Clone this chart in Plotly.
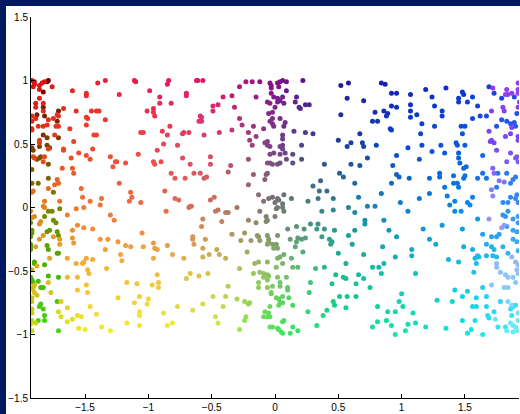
import numpy as np
import plotly.graph_objects as go

# Scatter samples, split by shading: the near face, the darker far face on the
# left rim and the paler far face on the right rim.
front_pts = [
    (-1.92, 1.00), (-1.90, 0.99), (-1.90, 0.97), (-1.86, 0.96), (-1.84, 0.98), (-1.82, 0.99),
    (-1.76, 0.95), (-1.86, 0.93), (-1.91, 0.95), (-1.60, 0.92), (-1.57, 0.76), (-1.49, 0.90),
    (-1.49, 0.88), (-1.40, 0.98), (-1.34, 1.00), (-1.23, 0.89), (-1.11, 1.00), (-1.10, 0.99),
    (-0.99, 0.92), (-0.85, 0.97), (-0.84, 1.00), (-0.91, 0.87), (-0.82, 0.82), (-0.91, 0.82),
    (-0.96, 0.78), (-0.96, 0.75), (-0.95, 0.72), (-1.01, 0.76), (-0.83, 0.64), (-1.49, 0.71),
    (-1.48, 0.70), (-1.49, 0.65), (-1.45, 0.76), (-1.41, 0.76), (-1.39, 0.76), (-1.34, 0.69),
    (-1.86, 0.86), (-1.89, 0.82), (-1.89, 0.79), (-1.83, 0.82), (-1.83, 0.76), (-1.92, 0.72),
    (-1.92, 0.68), (-1.89, 0.70), (-1.79, 0.69), (-1.75, 0.70), (-1.67, 0.78), (-1.72, 0.73),
    (-1.71, 0.72), (-1.73, 0.64), (-1.71, 0.64), (-1.83, 0.64), (-1.87, 0.64), (-1.92, 0.62),
    (-1.80, 0.65), (-1.62, 0.62),
    (-0.70, 0.90), (-0.70, 0.88), (-0.62, 1.00), (-0.61, 1.00), (-0.57, 1.00), (-0.59, 0.72),
    (-0.58, 0.71), (-0.58, 0.68), (-0.60, 0.68), (-0.49, 0.80), (-0.45, 0.81), (-0.49, 0.76),
    (-0.41, 0.87), (-0.34, 0.88), (-0.32, 0.79), (-0.28, 0.70), (-0.26, 0.65), (-0.28, 0.95),
    (-0.23, 0.99), (-0.18, 0.99), (-0.12, 0.99), (-0.15, 0.87), (-0.17, 0.64), (-0.04, 0.98),
    (-0.03, 0.96), (-0.03, 0.94), (0.02, 0.98), (0.04, 0.99), (0.06, 1.00), (0.09, 0.99),
    (0.03, 0.95), (0.09, 0.92), (-0.03, 0.90), (-0.01, 0.87), (0.02, 0.86), (0.06, 0.87),
    (0.04, 0.84), (-0.06, 0.83), (-0.04, 0.82), (0.02, 0.83), (0.07, 0.82), (0.16, 0.83),
    (0.17, 0.87), (0.19, 0.79), (0.20, 0.78), (0.24, 0.81), (0.27, 0.81), (0.00, 0.79),
    (-0.02, 0.75), (-0.05, 0.74), (-0.02, 0.70), (-0.04, 0.68), (-0.02, 0.66), (-0.01, 0.64),
    (0.04, 0.70), (0.08, 0.67), (0.07, 0.64), (-0.09, 0.62), (0.22, 1.00),
    (0.52, 0.96), (0.58, 0.98), (0.57, 0.86), (0.52, 0.73), (0.70, 0.84), (0.84, 0.98),
    (0.87, 0.97), (0.92, 0.90), (0.96, 0.90), (0.79, 0.75), (0.86, 0.76), (0.89, 0.74),
    (0.88, 0.72), (0.92, 0.80), (0.96, 0.79), (0.77, 0.68), (0.81, 0.68), (0.91, 0.62),
    (1.07, 0.89), (1.19, 0.93), (1.24, 0.87), (1.07, 0.81), (1.07, 0.76), (1.07, 0.71),
    (1.12, 0.73), (1.26, 0.80), (1.35, 0.94), (1.32, 0.76), (1.32, 0.72), (1.16, 0.66),
    (1.26, 0.64), (1.45, 0.86), (1.45, 0.83), (1.48, 0.91), (1.49, 0.89), (1.52, 0.83),
    (1.56, 0.87), (1.60, 0.80), (1.47, 0.64), (1.50, 0.64), (1.56, 0.70), (1.62, 0.72),
    (1.67, 0.72), (1.69, 0.95), (1.73, 0.90), (1.79, 0.86), (1.89, 0.87), (1.91, 0.74),
    (1.79, 0.69), (1.83, 0.68), (1.86, 0.66), (1.89, 0.67), (1.90, 0.64), (1.75, 0.64),
    (-1.92, 0.61), (-1.86, 0.53), (-1.86, 0.51), (-1.79, 0.46), (-1.74, 0.57), (-1.67, 0.46),
    (-1.67, 0.45), (-1.91, 0.40), (-1.90, 0.39), (-1.82, 0.40), (-1.83, 0.36), (-1.91, 0.13),
    (-1.92, 0.12), (-1.72, 0.22), (-1.74, 0.18), (-1.71, 0.19), (-1.79, 0.15), (-1.68, 0.31),
    (-1.82, 0.05), (-1.83, 0.01), (-1.82, 0.00), (-1.70, 0.05), (-1.93, -0.03), (-1.92, -0.08),
    (-1.90, -0.07), (-1.85, -0.11), (-1.86, -0.13), (-1.75, -0.23), (-1.83, -0.22), (-1.86, -0.25),
    (-1.70, -0.25), (-1.70, -0.29), (-1.89, -0.31), (-1.78, -0.40), (-1.88, -0.46), (-1.92, -0.49),
    (-1.59, 0.52), (-1.61, 0.39), (-1.60, 0.31), (-1.59, 0.27), (-1.55, 0.43), (-1.49, 0.41),
    (-1.46, 0.38), (-1.44, 0.46), (-1.43, 0.57), (-1.41, 0.57), (-1.53, 0.15), (-1.52, 0.08),
    (-1.46, 0.05), (-1.51, 0.00), (-1.57, -0.01), (-1.64, -0.06), (-1.37, 0.07), (-1.30, 0.40),
    (-1.28, 0.32), (-1.26, 0.36), (-1.25, 0.36), (-1.18, 0.35), (-1.23, 0.19), (-1.14, 0.12),
    (-1.13, 0.08), (-1.15, 0.05), (-1.08, 0.42), (-1.06, 0.04), (-1.06, 0.59), (-1.04, 0.59),
    (-0.96, 0.36), (-0.95, 0.34), (-0.90, 0.36), (-0.89, 0.60), (-0.85, 0.57), (-0.88, 0.50),
    (-0.93, 0.45), (-0.82, 0.27), (-0.87, 0.13), (-0.86, -0.03), (-1.27, -0.10), (-1.30, -0.06),
    (-1.38, 0.02), (-1.44, -0.17), (-1.51, -0.16), (-1.56, -0.14), (-1.60, -0.18), (-1.60, -0.24),
    (-1.59, -0.28), (-1.38, -0.25), (-1.34, -0.33), (-1.32, -0.25), (-1.24, -0.27), (-1.22, -0.37),
    (-1.18, -0.30), (-1.14, -0.31), (-1.04, -0.31), (-1.05, -0.20), (-0.96, -0.28), (-0.95, -0.32),
    (-0.93, -0.33), (-0.85, -0.30), (-0.81, -0.37), (-0.96, -0.40), (-1.21, -0.42), (-1.33, -0.48),
    (-1.49, -0.40), (-1.44, -0.41), (-1.51, -0.43), (-1.52, -0.44), (-1.57, -0.44), (-1.64, -0.40),
    (-1.48, -0.49), (-1.47, -0.52), (-1.56, -0.55), (-1.64, -0.55), (-1.79, -0.59), (-1.17, -0.59),
    (-1.09, -0.60), (-0.93, -0.53), (-0.92, -0.59),
    (-0.72, 0.59), (-0.68, 0.59), (-0.73, 0.58), (-0.56, 0.57), (-0.44, 0.59), (-0.34, 0.61),
    (-0.21, 0.59), (-0.15, 0.56), (-0.20, 0.53), (-0.18, 0.49), (-0.08, 0.51), (-0.06, 0.49),
    (-0.06, 0.52), (-0.04, 0.48), (-0.04, 0.42), (0.06, 0.57), (0.06, 0.54), (0.06, 0.49),
    (0.04, 0.48), (0.06, 0.46), (0.08, 0.43), (-0.01, 0.43), (0.04, 0.42), (0.15, 0.60),
    (0.24, 0.59), (0.30, 0.58), (0.21, 0.49), (0.14, 0.42), (0.09, 0.38), (0.21, 0.38),
    (0.14, 0.35), (-0.06, 0.35), (-0.04, 0.35), (-0.02, 0.34), (0.02, 0.34), (0.04, 0.35),
    (-0.21, 0.38), (-0.77, 0.49), (-0.73, 0.39), (-0.67, 0.34), (-0.51, 0.40), (-0.51, 0.34),
    (-0.35, 0.33), (-0.37, 0.28), (-0.64, 0.27), (-0.59, 0.27), (-0.56, 0.23), (-0.54, 0.24),
    (-0.71, 0.23), (-0.79, 0.23), (-0.17, 0.26), (-0.06, 0.27), (-0.07, 0.26), (-0.08, 0.22),
    (-0.21, 0.18), (0.39, 0.34), (0.51, 0.27), (0.54, 0.24), (0.50, 0.53), (0.36, 0.21),
    (0.30, 0.17), (0.35, 0.13), (0.41, 0.13), (0.26, 0.05), (0.34, 0.07), (0.46, 0.07),
    (0.37, -0.03), (0.46, -0.02), (-0.13, 0.10), (-0.09, 0.05), (-0.05, 0.07), (-0.02, 0.08),
    (0.02, 0.07), (0.00, 0.04), (0.03, 0.06), (0.06, 0.03), (0.07, 0.10), (0.13, 0.07),
    (0.02, 0.00), (0.06, 0.00), (0.01, -0.01), (0.07, -0.03), (-0.12, -0.03), (-0.07, -0.07),
    (-0.07, -0.11), (0.00, -0.07), (-0.21, -0.10), (-0.15, -0.12), (-0.06, -0.10),
    (-0.79, 0.07), (-0.76, 0.06), (-0.67, 0.01), (-0.66, 0.01), (-0.68, 0.00), (-0.51, 0.06),
    (-0.48, 0.08), (-0.47, -0.03), (-0.45, -0.02), (-0.39, -0.04), (-0.37, -0.04), (-0.42, -0.11),
    (-0.30, 0.00), (-0.57, -0.09), (-0.58, -0.15), (-0.65, -0.23), (-0.65, -0.25), (-0.64, -0.29),
    (-0.55, -0.25), (-0.57, -0.32), (-0.46, -0.33), (-0.44, -0.37), (-0.52, -0.37), (-0.57, -0.39),
    (-0.39, -0.40), (-0.72, -0.40), (-0.67, -0.52), (-0.70, -0.56), (-0.60, -0.54), (-0.53, -0.52),
    (-0.34, -0.21), (-0.24, -0.20), (-0.27, -0.26), (-0.19, -0.26), (-0.22, -0.35), (-0.14, -0.22),
    (-0.13, -0.23), (-0.12, -0.26), (-0.28, -0.48), (-0.17, -0.52), (-0.16, -0.44), (-0.13, -0.43),
    (-0.06, -0.43), (-0.12, -0.51), (-0.09, -0.52), (-0.06, -0.53), (-0.05, -0.54), (-0.09, -0.55),
    (-0.06, -0.57), (-0.13, -0.59), (-0.06, -0.22), (-0.05, -0.25), (-0.05, -0.27), (-0.06, -0.29),
    (-0.02, -0.29), (0.01, -0.29), (0.02, -0.32), (-0.01, -0.32), (0.02, -0.22), (0.02, -0.40),
    (0.04, -0.39), (0.01, -0.47), (0.06, -0.44), (0.07, -0.37), (0.12, -0.25), (0.13, -0.40),
    (0.14, -0.47), (0.09, -0.55), (0.02, -0.55), (0.04, -0.59), (0.17, -0.27), (0.18, -0.24),
    (0.16, -0.31), (0.21, -0.25), (0.24, -0.24), (0.22, -0.35), (0.18, -0.47), (0.10, -0.17),
    (0.17, -0.15), (0.23, -0.17), (0.28, -0.13), (0.34, -0.13), (0.33, -0.17), (0.39, -0.17),
    (0.47, -0.18), (0.37, -0.23), (0.43, -0.25), (0.44, -0.29), (0.45, -0.27), (0.32, -0.48),
    (0.39, -0.47), (0.48, -0.53), (0.54, -0.55), (0.50, -0.36), (0.28, -0.59), (0.45, -0.60),
    (0.67, 0.58), (0.92, 0.61), (1.15, 0.58), (1.48, 0.58), (0.57, 0.48), (0.60, 0.51),
    (0.69, 0.51), (0.70, 0.48), (0.80, 0.49), (0.96, 0.41), (1.05, 0.47), (1.16, 0.49),
    (1.24, 0.44), (1.31, 0.49), (1.34, 0.43), (1.43, 0.51), (1.44, 0.49), (1.50, 0.49),
    (1.45, 0.43), (1.45, 0.39), (1.46, 0.35), (1.49, 0.31), (1.64, 0.41), (0.60, 0.34),
    (0.67, 0.33), (0.73, 0.39), (0.93, 0.33), (1.14, 0.38), (0.92, 0.19), (0.96, 0.26),
    (0.98, 0.24), (1.06, 0.23), (1.22, 0.23), (1.30, 0.27), (1.30, 0.24), (1.41, 0.25),
    (1.34, 0.16), (1.41, 0.19), (1.44, 0.19), (1.45, 0.16), (1.51, 0.32), (1.50, 0.25),
    (1.49, 0.23), (1.60, 0.23), (1.64, 0.27), (1.67, 0.23), (1.76, 0.27), (1.83, 0.27),
    (1.86, 0.19), (1.88, 0.22), (1.90, 0.24), (0.63, 0.19), (0.84, 0.11), (1.22, 0.11),
    (1.14, 0.07), (1.36, 0.09), (1.42, 0.05), (1.47, -0.03), (1.38, 0.02), (1.52, 0.04),
    (1.54, 0.02), (1.56, 0.08), (1.75, 0.16), (1.80, 0.04), (1.84, 0.04), (1.86, 0.08),
    (1.90, 0.07), (1.91, 0.10), (1.92, 0.04), (0.66, 0.08), (0.58, 0.00), (0.73, 0.01),
    (0.79, 0.01), (0.63, -0.04), (0.99, 0.04), (1.05, -0.03), (1.42, -0.03), (1.60, -0.09),
    (1.80, -0.06), (1.82, -0.07), (1.84, -0.03), (1.88, -0.09), (1.92, -0.07), (0.71, -0.10),
    (0.71, -0.13), (0.86, -0.10), (1.17, -0.17), (1.32, -0.14), (1.48, -0.17), (0.90, -0.18),
    (0.63, -0.18), (0.58, -0.22), (0.96, -0.23), (1.64, -0.21), (1.71, -0.23), (1.75, -0.23),
    (1.77, -0.21), (1.83, -0.15), (1.88, -0.18), (1.91, -0.19), (1.92, -0.12), (1.22, -0.25),
    (1.27, -0.29), (0.61, -0.29), (0.85, -0.31), (1.08, -0.33), (1.08, -0.38), (1.49, -0.31),
    (1.56, -0.33), (1.60, -0.38), (1.67, -0.29), (1.71, -0.31), (1.73, -0.33), (1.75, -0.39),
    (1.80, -0.31), (1.84, -0.36), (1.88, -0.25), (1.91, -0.27), (1.92, -0.34), (0.56, -0.44),
    (0.70, -0.37), (0.77, -0.47), (0.82, -0.47), (0.86, -0.44), (0.95, -0.39), (0.84, -0.52),
    (1.11, -0.52), (1.37, -0.41), (1.45, -0.43), (1.58, -0.40), (1.59, -0.44), (1.57, -0.51),
    (1.61, -0.39), (1.67, -0.38), (1.72, -0.38), (0.56, -0.56), (0.66, -0.53), (0.70, -0.56),
    (-1.77, -0.67), (-1.69, -0.74), (-1.71, -0.82), (-1.69, -0.86), (-1.64, -0.79), (-1.64, -0.90),
    (-1.60, -0.88), (-1.56, -0.85), (-1.53, -0.86), (-1.55, -0.95), (-1.50, -0.96), (-1.46, -0.78),
    (-1.41, -0.84), (-1.37, -0.94), (-1.30, -0.97), (-1.56, -0.65), (-1.48, -0.67), (-1.49, -0.61),
    (-1.24, -0.71), (-1.07, -0.70), (-1.11, -0.75), (-1.07, -0.82), (-1.07, -0.85), (-1.01, -0.76),
    (-1.00, -0.72), (-1.17, -0.91), (-1.07, -0.93), (-0.97, -0.61), (-0.92, -0.63), (-0.88, -0.83),
    (-0.85, -0.93), (-0.81, -0.91), (-0.77, -0.78),
    (-1.90, -0.61), (-1.91, -0.63), (-1.92, -0.64), (-1.90, -0.67), (-1.88, -0.69), (-1.92, -0.71),
    (-1.92, -0.74), (-1.92, -0.80), (-1.92, -0.83), (-1.92, -0.89), (-1.93, -0.92), (-1.92, -0.97),
    (-1.89, -0.91),
    (-0.65, -0.81), (-0.57, -0.76), (-0.49, -0.70), (-0.41, -0.78), (-0.39, -0.70), (-0.37, -0.62),
    (-0.47, -0.86), (-0.45, -0.91), (-0.30, -0.72), (-0.24, -0.74), (-0.21, -0.76), (-0.20, -0.75),
    (-0.28, -0.96), (-0.24, -0.89), (-0.23, -0.86), (-0.13, -0.63), (-0.06, -0.63), (-0.02, -0.62),
    (-0.03, -0.67), (-0.03, -0.68), (0.01, -0.71), (0.03, -0.72), (0.06, -0.70), (0.04, -0.75),
    (0.06, -0.75), (-0.04, -0.78), (-0.08, -0.82), (-0.05, -0.83), (-0.09, -0.86), (-0.06, -0.86),
    (-0.04, -0.86), (0.03, -0.77), (0.10, -0.63), (0.10, -0.65), (0.04, -0.62), (0.11, -0.71),
    (0.14, -0.77), (-0.04, -0.94), (-0.02, -0.94), (0.02, -0.95), (0.03, -0.96), (0.05, -0.98),
    (0.06, -0.99), (0.06, -0.90), (0.07, -0.89), (0.12, -0.99), (0.14, -0.94), (0.18, -0.97),
    (0.27, -0.67), (0.26, -0.82), (0.33, -0.93), (0.38, -0.85), (0.41, -0.81), (0.46, -0.74),
    (0.47, -0.77), (0.51, -0.70),
    (0.64, -0.60), (0.75, -0.63), (0.57, -0.70), (0.64, -0.70), (0.56, -0.79), (0.81, -0.78),
    (0.89, -0.82), (0.95, -0.82), (0.98, -0.74), (1.00, -0.68), (1.01, -0.78), (1.09, -0.83),
    (0.81, -0.90), (0.88, -0.89), (0.77, -0.94), (0.92, -0.93), (0.95, -1.00), (1.03, -0.97),
    (1.05, -0.92), (1.11, -0.91), (1.19, -0.94), (1.28, -0.73), (1.35, -0.95), (1.40, -0.74),
    (1.42, -0.65), (1.48, -0.70), (1.52, -0.66), (1.48, -0.89), (1.55, -0.96), (1.52, -0.99),
    (1.58, -0.89), (1.56, -0.78), (1.59, -0.78), (1.59, -0.71), (1.64, -0.63), (1.64, -1.00),
    (1.67, -0.70), (1.67, -0.78), (1.68, -0.85), (1.69, -0.87), (1.73, -0.82), (1.78, -0.74),
    (1.76, -0.94), (1.82, -0.94), (1.88, -0.78), (1.90, -0.77), (1.86, -0.80), (1.87, -0.85),
]

rear_pts = [
    (-1.80, 0.99), (-1.79, 1.00), (-1.83, 0.91), (-1.83, 0.79), (-1.88, 0.73), (-1.82, 0.72),
    (-1.71, 0.76), (-1.72, 0.68), (-1.83, 0.57), (-1.80, 0.55), (-1.86, 0.48), (-1.92, 0.47),
    (-1.91, 0.45), (-1.80, 0.49), (-1.78, 0.47), (-1.71, 0.55), (-1.88, 0.38), (-1.86, 0.39),
    (-1.85, 0.40), (-1.79, 0.34), (-1.92, 0.30), (-1.92, 0.19), (-1.87, 0.19), (-1.79, 0.23),
    (-1.75, 0.12), (-1.79, -0.03), (-1.76, -0.03), (-1.70, -0.01), (-1.82, -0.07), (-1.93, -0.12),
    (-1.75, -0.10), (-1.73, -0.12), (-1.78, -0.18), (-1.80, -0.19), (-1.72, -0.19), (-1.71, -0.22),
    (-1.92, -0.18), (-1.92, -0.20), (-1.93, -0.23), (-1.93, -0.29), (-1.93, -0.31), (-1.93, -0.33),
    (-1.80, -0.30), (-1.79, -0.33), (-1.72, -0.36), (-1.71, -0.36), (-1.90, -0.43), (-1.90, -0.44),
    (-1.82, -0.45), (-1.79, -0.54), (-1.71, -0.55), (-1.93, -0.55), (-1.92, -0.57), (-1.91, -0.59),
    (-1.87, -0.58), (-1.85, -0.63), (-1.83, -0.63), (-1.85, -0.76), (-1.86, -0.78), (-1.83, -0.80),
    (-1.72, -0.74), (-1.82, -0.85), (-1.82, -0.89), (-1.87, -0.89), (-1.71, -0.97),
]

rim_pts = [
    (1.72, 0.94), (1.71, 0.76), (1.80, 0.79), (1.81, 0.76), (1.83, 0.93), (1.82, 0.89),
    (1.84, 0.89), (1.87, 0.90), (1.92, 0.98), (1.92, 0.93), (1.92, 0.90), (1.93, 0.83),
    (1.92, 0.79), (1.87, 0.63), (1.69, 0.60), (1.82, 0.56), (1.86, 0.58), (1.71, 0.53),
    (1.73, 0.51), (1.70, 0.52), (1.75, 0.45), (1.83, 0.36), (1.86, 0.43), (1.90, 0.39),
    (1.91, 0.40), (1.92, 0.36), (1.92, 0.56), (1.92, 0.53), (1.72, 0.31), (1.73, 0.27),
    (1.77, 0.21), (1.81, 0.20), (1.71, 0.14), (1.72, 0.09), (1.69, -0.09), (1.79, -0.16),
    (1.81, -0.14), (1.87, -0.39), (1.90, -0.43), (1.92, -0.45), (1.75, -0.44), (1.75, -0.47),
    (1.78, -0.51), (1.82, -0.53), (1.84, -0.55), (1.88, -0.55), (1.90, -0.59), (1.92, -0.52),
    (1.91, -0.49), (1.74, -0.88), (1.71, -0.61), (1.81, -0.63), (1.84, -0.63), (1.84, -0.74),
    (1.87, -0.77), (1.86, -0.91), (1.88, -0.93), (1.90, -0.94), (1.91, -0.97), (1.88, -0.98),
    (1.83, -0.97), (1.92, -0.83), (1.92, -0.89),
]

x_ticks = [-1.5, -1, -0.5, 0, 0.5, 1, 1.5]
y_ticks = [-1.5, -1, -0.5, 0, 0.5, 1, 1.5]

# Colour field for the near face, sampled on a coarse grid (rows top to bottom).
grid_x = [-1.93, -1.5, -1.0, -0.5, 0.0, 0.5, 1.0, 1.5, 1.93]
grid_y = [1.0, 0.5, 0.0, -0.5, -1.0]
grid_hex = [
    ["#d81010", "#e8222a", "#ec1a50", "#dc1670", "#80108a", "#2c1890", "#1020b8", "#0c2ed8", "#2a40e8"],
    ["#e03c10", "#f04428", "#f04250", "#d84468", "#784284", "#1c3c98", "#0a48c8", "#0c58e0", "#2a64f0"],
    ["#dc8420", "#f07830", "#f06a44", "#c87460", "#747872", "#288890", "#1080c8", "#0c88e8", "#3c90f4"],
    ["#d8b018", "#f8b438", "#f4bc40", "#d4c050", "#88c068", "#18b890", "#10c0b8", "#14c4e8", "#40c0f4"],
    ["#b8e010", "#f0f028", "#f4f030", "#d8f048", "#48e858", "#10e080", "#10e8a8", "#10e4e0", "#40f0f8"],
]
# Shading along the two rims, by height.
rim_y = [1.0, 0.5, 0.0, -0.5, -1.0]
rear_hex = ["#700000", "#7a4000", "#7a8400", "#48b400", "#48d818"]
pale_hex = ["#9838f0", "#7848f0", "#9090f4", "#90c0f8", "#60f0f8"]


def hex_rgb(h):
    return np.array([int(h[i:i + 2], 16) for i in (1, 3, 5)], dtype=float)


def css(rgb):
    r, g, b = np.clip(np.round(rgb), 0, 255).astype(int)
    return f"rgb({r},{g},{b})"


grid_rgb = np.array([[hex_rgb(h) for h in row] for row in grid_hex])
gx = np.array(grid_x)
gy = np.array(grid_y[::-1])
grid_rgb_up = grid_rgb[::-1]


def face_colour(x, y):
    i = int(np.clip(np.searchsorted(gx, x) - 1, 0, len(gx) - 2))
    j = int(np.clip(np.searchsorted(gy, y) - 1, 0, len(gy) - 2))
    tx = np.clip((x - gx[i]) / (gx[i + 1] - gx[i]), 0, 1)
    ty = np.clip((y - gy[j]) / (gy[j + 1] - gy[j]), 0, 1)
    c00, c10 = grid_rgb_up[j, i], grid_rgb_up[j, i + 1]
    c01, c11 = grid_rgb_up[j + 1, i], grid_rgb_up[j + 1, i + 1]
    top = c01 * (1 - tx) + c11 * tx
    bot = c00 * (1 - tx) + c10 * tx
    return css(bot * (1 - ty) + top * ty)


def rim_colour(y, stops):
    ys = np.array(rim_y[::-1])
    cs = np.array([hex_rgb(h) for h in stops[::-1]])
    return css(np.array([np.interp(y, ys, cs[:, k]) for k in range(3)]))


fig = go.Figure()


def add_points(pts, colours):
    fig.add_trace(go.Scatter(
        x=[p[0] for p in pts], y=[p[1] for p in pts], mode="markers",
        marker=dict(size=5, color=colours, line=dict(width=0)),
        hoverinfo="skip", showlegend=False,
    ))


add_points(rear_pts, [rim_colour(y, rear_hex) for _, y in rear_pts])
add_points(front_pts, [face_colour(x, y) for x, y in front_pts])
add_points(rim_pts, [rim_colour(y, pale_hex) for _, y in rim_pts])

navy = "#001a60"
axis_font = dict(family="Liberation Sans, Arial, sans-serif", size=10, color="#000000")

fig.update_layout(
    width=520, height=414,
    margin=dict(l=31, r=1, t=17, b=16),
    paper_bgcolor="white", plot_bgcolor="white",
    xaxis=dict(
        range=[-1.927, 1.927], tickvals=x_ticks, ticks="inside", ticklen=4,
        tickcolor="black", showline=True, linecolor="black", linewidth=1,
        showgrid=False, zeroline=False, tickfont=axis_font, mirror=False,
    ),
    yaxis=dict(
        range=[-1.5, 1.5], tickvals=y_ticks, ticks="inside", ticklen=4,
        tickcolor="black", showline=True, linecolor="black", linewidth=1,
        showgrid=False, zeroline=False, tickfont=axis_font, mirror=False,
    ),
    shapes=[
        # navy window frame along the left and top edges
        dict(type="rect", xref="paper", yref="paper", x0=-0.07, x1=-0.0512,
             y0=-0.1, y1=1.1, fillcolor=navy, line=dict(width=0), layer="above"),
        dict(type="rect", xref="paper", yref="paper", x0=-0.07, x1=1.1,
             y0=1.029, y1=1.1, fillcolor=navy, line=dict(width=0), layer="above"),
    ],
)

fig.write_html("out.html")
